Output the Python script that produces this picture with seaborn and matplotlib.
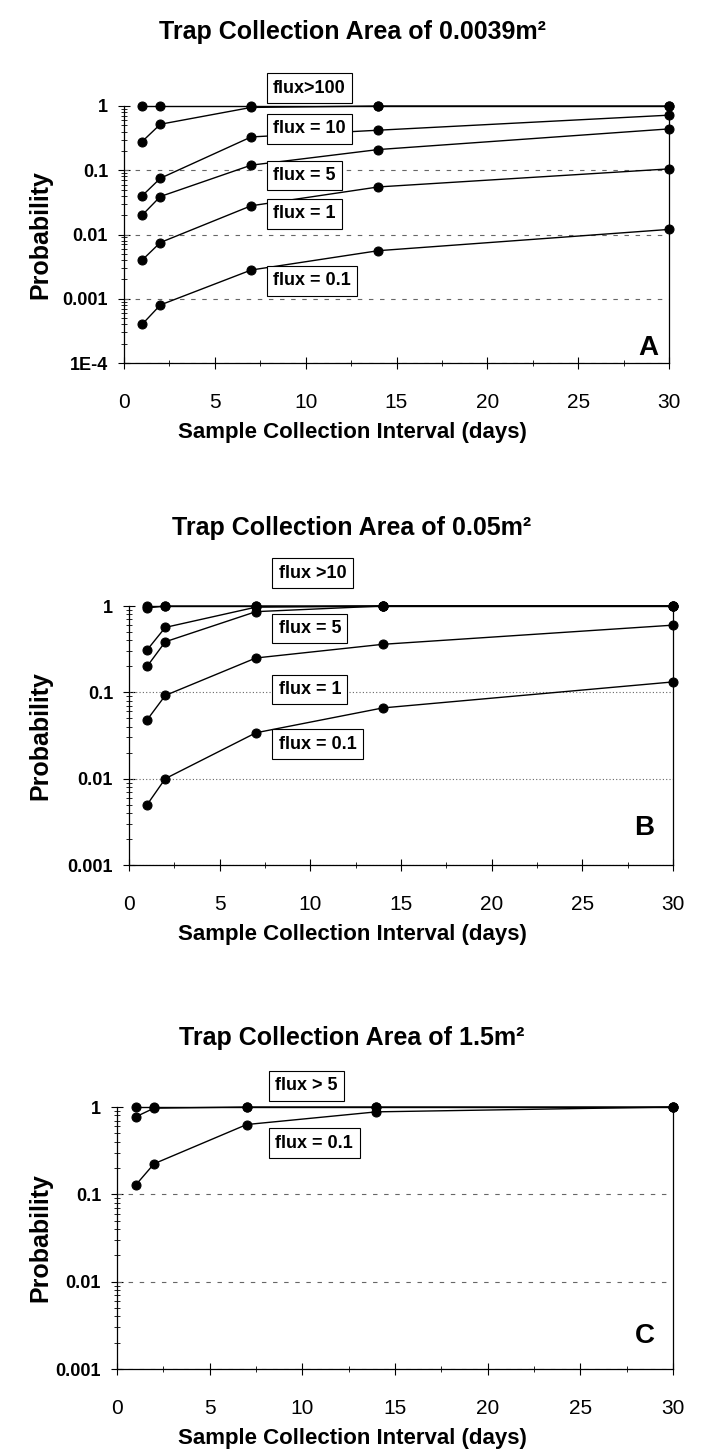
import numpy as np
import pandas as pd
import matplotlib
matplotlib.use("Agg")
import matplotlib.pyplot as plt
import matplotlib.ticker as mticker
import seaborn as sns

# ------------------------------
# 1. Data
# ------------------------------
days = [1, 2, 7, 14, 30]

# Panel A: trap area 0.0039 m^2
a_flux100 = [1, 1, 1, 1, 1]
a_flux50 = [0.28, 0.52, 0.95, 1, 1]
a_flux10 = [0.04, 0.075, 0.33, 0.42, 0.72]
a_flux5 = [0.02, 0.039, 0.12, 0.21, 0.44]
a_flux1 = [0.004, 0.0075, 0.028, 0.055, 0.105]
a_flux01 = [0.0004, 0.0008, 0.0028, 0.0056, 0.012]

# Panel B: trap area 0.05 m^2
b_flux10 = [1, 1, 1, 1, 1]
b_flux8 = [0.95, 1, 1, 1, 1]
b_flux6 = [0.31, 0.565, 0.97, 1, 1]
b_flux5 = [0.2, 0.385, 0.86, 1, 1]
b_flux1 = [0.048, 0.092, 0.25, 0.36, 0.6]
b_flux01 = [0.005, 0.01, 0.034, 0.066, 0.132]

# Panel C: trap area 1.5 m^2
c_flux5 = [1, 1, 1, 1, 1]
c_flux1 = [0.77, 0.97, 1, 1, 1]
c_flux01 = [0.127, 0.224, 0.63, 0.88, 1]

titles = ["Trap Collection Area of 0.0039m²",
          "Trap Collection Area of 0.05m²",
          "Trap Collection Area of 1.5m²"]
panel_letters = ["A", "B", "C"]
a_labels = ["flux>100", "flux = 10", "flux = 5", "flux = 1", "flux = 0.1"]
b_labels = ["flux >10", "flux = 5", "flux = 1", "flux = 0.1"]
c_labels = ["flux > 5", "flux = 0.1"]
ytick_text = {1: "1", 0.1: "0.1", 0.01: "0.01", 0.001: "0.001", 1e-4: "1E-4"}


def to_long(series):
    rows = []
    for i, vals in enumerate(series):
        for d, v in zip(days, vals):
            rows.append({"days": d, "prob": v, "series": i})
    return pd.DataFrame(rows)


df_a = to_long([a_flux100, a_flux50, a_flux10, a_flux5, a_flux1, a_flux01])
df_b = to_long([b_flux10, b_flux8, b_flux6, b_flux5, b_flux1, b_flux01])
df_c = to_long([c_flux5, c_flux1, c_flux01])

# ------------------------------
# 2. Figure layout
# ------------------------------
sns.set_style("white")
plt.rcParams["font.family"] = ["Liberation Sans", "DejaVu Sans"]
for key in ["text.color", "axes.labelcolor", "xtick.color", "ytick.color"]:
    plt.rcParams[key] = "black"

W, H = 701.0, 1452.0
fig = plt.figure(figsize=(7.01, 14.52), dpi=100)
center_px = 352  # titles and x labels are centred here

# plot-area pixel boxes (left, right, top, bottom) plus label placements
panels = [
    dict(df=df_a, box=(124, 669, 106, 363), ymin=1e-4, ls=(0, (4, 6)),
         labels=a_labels, lx=8.2, ly=[1.9, 0.44, 0.083, 0.021, 0.0019],
         letter_x=28.85, letter_y=1.7e-4, title_y=32),
    dict(df=df_b, box=(129, 673, 606, 865), ymin=1e-3, ls=(0, (1, 2)),
         labels=b_labels, lx=8.25, ly=[2.4, 0.55, 0.108, 0.025],
         letter_x=28.4, letter_y=2.7e-3, title_y=528),
    dict(df=df_c, box=(117, 673, 1107, 1369), ymin=1e-3, ls=(0, (4, 6)),
         labels=c_labels, lx=8.55, ly=[1.75, 0.387],
         letter_x=28.5, letter_y=2.4e-3, title_y=1038),
]

for p, title, letter in zip(panels, titles, panel_letters):
    l, r, t, b = p["box"]
    ax = fig.add_axes([l / W, 1 - b / H, (r - l) / W, (b - t) / H])
    sns.lineplot(data=p["df"], x="days", y="prob", units="series", estimator=None,
                 color="black", marker="o", markersize=6.5, markeredgecolor="black",
                 linewidth=1.0, ax=ax, legend=False)
    for line in ax.lines:
        line.set_clip_on(False)
        line.set_zorder(3)

    ax.set_yscale("log")
    ax.set_ylim(p["ymin"], 1)
    ax.set_xlim(0, 30)

    majors = [v for v in ytick_text if v >= p["ymin"]]
    for v in majors:
        if v < 1:
            ax.axhline(v, color="#666666", lw=0.8, ls=p["ls"], zorder=1)
    ax.yaxis.set_major_locator(mticker.FixedLocator(majors))
    ax.yaxis.set_major_formatter(mticker.FixedFormatter([ytick_text[v] for v in majors]))
    ax.yaxis.set_minor_locator(mticker.LogLocator(base=10, subs=np.arange(2, 10)))
    ax.yaxis.set_minor_formatter(mticker.NullFormatter())
    ax.xaxis.set_major_locator(mticker.MultipleLocator(5))
    ax.xaxis.set_minor_locator(mticker.MultipleLocator(2.5))

    ax.tick_params(axis="both", which="both", left=True, bottom=True,
                   right=False, top=False, direction="inout", color="black")
    ax.tick_params(axis="both", which="major", length=9, width=0.8)
    ax.tick_params(axis="both", which="minor", length=5, width=0.6)
    ax.tick_params(axis="y", which="major", labelsize=13, pad=7)
    ax.tick_params(axis="x", which="major", labelsize=15, pad=17)
    for tl in ax.get_yticklabels():
        tl.set_fontweight("bold")

    for side in ["left", "bottom", "right"]:
        ax.spines[side].set_visible(True)
        ax.spines[side].set_color("black")
        ax.spines[side].set_linewidth(0.9)
    ax.spines["top"].set_visible(False)

    ax.set_xlabel("Sample Collection Interval (days)", fontsize=16, fontweight="bold")
    ax.xaxis.set_label_coords((center_px - l) / (r - l), -59 / (b - t))
    ax.set_ylabel("Probability", fontsize=18, fontweight="bold")
    ax.yaxis.set_label_coords((52 - l) / (r - l), 0.5)

    for lab, y in zip(p["labels"], p["ly"]):
        ax.text(p["lx"], y, lab, fontsize=13, fontweight="bold", ha="left", va="center",
                zorder=5, clip_on=False,
                bbox=dict(boxstyle="square,pad=0.35", facecolor="white",
                          edgecolor="black", linewidth=0.8))

    ax.text(p["letter_x"], p["letter_y"], letter, fontsize=20, fontweight="bold",
            ha="center", va="center")

    fig.text(center_px / W, 1 - p["title_y"] / H, title, fontsize=18, fontweight="bold",
             ha="center", va="center")

fig.savefig("out.png", dpi=100)
